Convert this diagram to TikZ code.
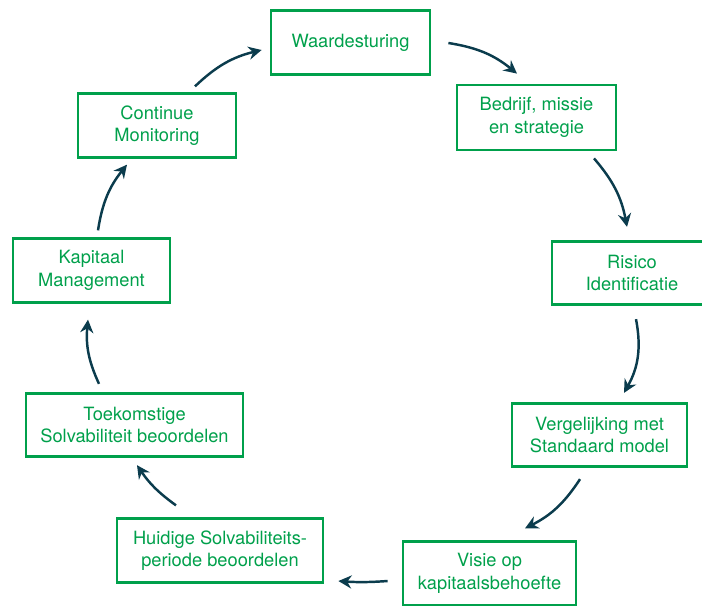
\documentclass[tikz,border=0pt]{standalone}
\usepackage{fontspec}
\setmainfont{TeX Gyre Heros}
\usepackage{tikz}
\usetikzlibrary{arrows.meta, positioning}
\definecolor{CycleGreen}{HTML}{00A04B}
\definecolor{ArrowTeal}{HTML}{0B3C4D}

\begin{document}
\begin{tikzpicture}[
  x=0.02cm, y=-0.02cm,
  every node/.style={font=\fontsize{10.4}{12.8}\selectfont},
  box/.style={rectangle, draw=CycleGreen, line width=1.6pt, text=CycleGreen,
              align=center, minimum height=1.27cm, inner sep=2pt},
  arr/.style={-{Stealth[length=7.5pt, width=7.5pt, inset=2.5pt]},
              line width=1.4pt, color=ArrowTeal}
]
\useasboundingbox (0,0) rectangle (702,605);

% Nodes
\node[box, minimum width=3.18cm] (waarde) at (350.5,42.5) {Waardesturing};
\node[box, minimum width=3.18cm, minimum height=1.3cm] (bedrijf) at (536.5,117.5) {Bedrijf, missie\\en strategie};
\node[box, minimum width=3.2cm] (risico) at (632,273) {Risico\\Identificatie};
\node[box, minimum width=3.5cm] (vergelijk) at (599.5,435) {Vergelijking met\\Standaard model};
\node[box, minimum width=3.46cm] (visie) at (489.5,573.5) {Visie op\\kapitaalsbehoefte};
\node[box, minimum width=4.12cm] (huidig) at (220,550.5) {Huidige Solvabiliteits-\\periode beoordelen};
\node[box, minimum width=4.34cm] (toekomst) at (134.5,425) {Toekomstige\\Solvabiliteit beoordelen};
\node[box, minimum width=3.14cm] (kapitaal) at (91.5,270.5) {Kapitaal\\Management};
\node[box, minimum width=3.16cm] (monitor) at (157,125.5) {Continue\\Monitoring};

% Arrows
\draw[arr] ([shift={(17,0.5)}]waarde.east) to[bend left=15] ([shift={(-19.5,-10)}]bedrijf.north);
\draw[arr] ([shift={(57.5,7)}]bedrijf.south) to[bend left=15] ([shift={(-5,-13)}]risico.north);
\draw[arr] ([shift={(4,13)}]risico.south) to[bend left=20] ([shift={(24.5,-9)}]vergelijk.north);
\draw[arr] ([shift={(-19.5,11)}]vergelijk.south) to[bend left=15] ([shift={(35.5,-12)}]visie.north);
\draw[arr] ([shift={(-14,7.5)}]visie.west) to[bend left=4] ([shift={(14,30.5)}]huidig.east);
\draw[arr] ([shift={(-44,-12)}]huidig.north) to[bend left=10] ([shift={(2.5,7)}]toekomst.south);
\draw[arr] ([shift={(-35.5,-8)}]toekomst.north) to[bend left=15] ([shift={(-3.5,16)}]kapitaal.south);
\draw[arr] ([shift={(6.5,-7)}]kapitaal.north) to[bend left=15] ([shift={(-30,6)}]monitor.south);
\draw[arr] ([shift={(38,-6)}]monitor.north) to[bend left=15] ([shift={(-8,7.5)}]waarde.west);

\end{tikzpicture}
\end{document}
